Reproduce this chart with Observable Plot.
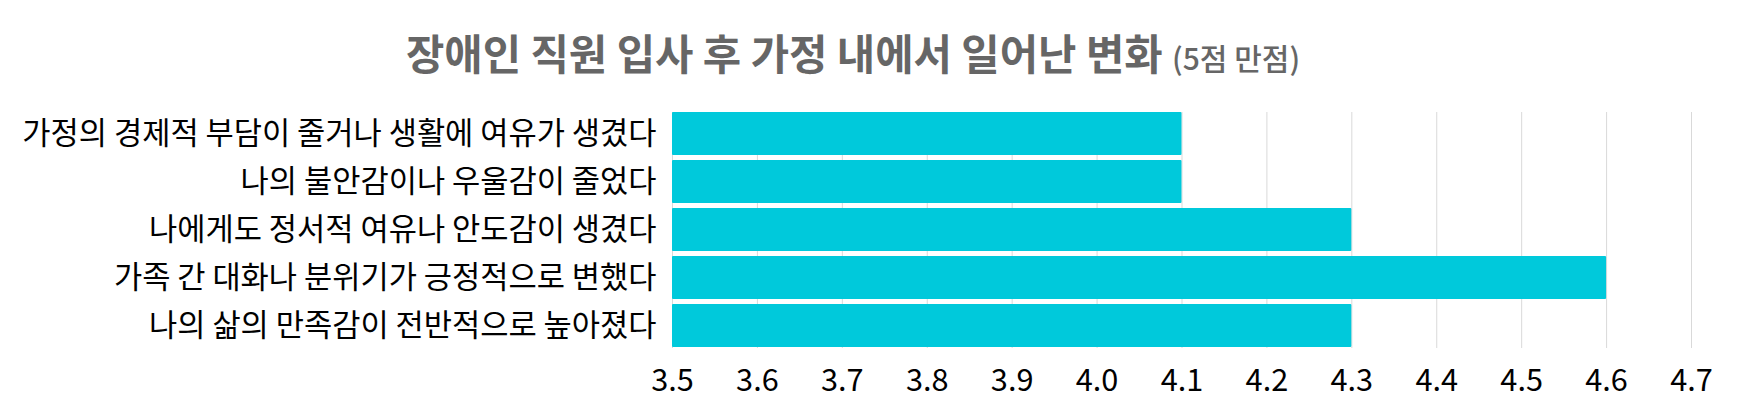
<!DOCTYPE html>
<html><head><meta charset="utf-8">
<script src="https://cdn.jsdelivr.net/npm/d3@7"></script>
<script src="https://cdn.jsdelivr.net/npm/@observablehq/plot@0.6"></script>
<style>
body{margin:0;background:#fff;font-family:"Noto Sans CJK KR","Noto Sans",sans-serif;}
#wrap{position:relative;width:1741px;height:416px;}
#title{position:absolute;left:406px;top:32px;font-size:41.7px;line-height:1;font-weight:bold;color:#666;white-space:nowrap;}
#title small{font-size:30px;font-weight:500;}
#chart{position:absolute;left:0;top:0;}
</style></head>
<body><div id="wrap"><div id="chart"></div><div id="title">장애인 직원 입사 후 가정 내에서 일어난 변화 <small>(5점 만점)</small></div></div>
<script>
const categories = [
  "가정의 경제적 부담이 줄거나 생활에 여유가 생겼다",
  "나의 불안감이나 우울감이 줄었다",
  "나에게도 정서적 여유나 안도감이 생겼다",
  "가족 간 대화나 분위기가 긍정적으로 변했다",
  "나의 삶의 만족감이 전반적으로 높아졌다"
];
const values = [4.1, 4.1, 4.3, 4.6, 4.3];
const xTicks = [3.5,3.6,3.7,3.8,3.9,4.0,4.1,4.2,4.3,4.4,4.5,4.6,4.7];
const data = categories.map((c,i)=>({label:c, value:values[i]}));
const chart = Plot.plot({
  width:1741, height:416,
  marginLeft:672, marginRight:50, marginTop:112, marginBottom:68,
  style:{fontFamily:'"Noto Sans CJK KR","Noto Sans",sans-serif', fontSize:"30.7px", color:"#000", background:"#fff"},
  x:{domain:[3.5,4.7], ticks:xTicks, tickFormat:d=>d.toFixed(1), tickSize:0, tickPadding:21, label:null},
  y:{domain:categories, paddingInner:0.1, paddingOuter:0, tickSize:0, tickPadding:16, label:null},
  marks:[
    Plot.gridX(xTicks,{stroke:"#d9d9d9", strokeOpacity:1}),
    Plot.barX(data,{x1:3.5, x2:"value", y:"label", fill:"#00C9DB", rx:1})
  ]
});
document.getElementById("chart").appendChild(chart);
</script></body></html>
